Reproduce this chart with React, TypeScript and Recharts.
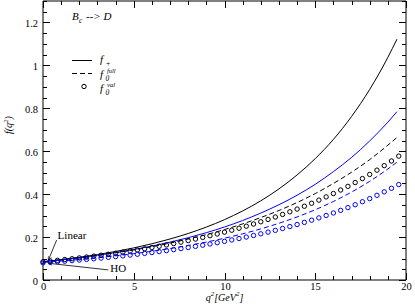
import {
  ComposedChart,
  Line,
  XAxis,
  YAxis,
  Legend,
  ReferenceLine,
} from "recharts";

// q^2 grid for the curves, and the values
const qLine = [0, 1, 2, 3, 4, 5, 6, 7, 8, 9, 10, 11, 12, 13, 14, 15, 16, 17, 18, 19, 19.5];
const fPlusLinear = [0.085, 0.0947, 0.1057, 0.1184, 0.1329, 0.1496, 0.1688, 0.1911, 0.2167, 0.2466, 0.2812, 0.3218, 0.369, 0.4244, 0.4896, 0.5656, 0.655, 0.7619, 0.888, 1.0373, 1.122];
const fPlusHO = [0.085, 0.0939, 0.104, 0.1152, 0.128, 0.1422, 0.158, 0.1766, 0.197, 0.2205, 0.2471, 0.2772, 0.312, 0.3507, 0.395, 0.446, 0.505, 0.571, 0.648, 0.7353, 0.784];
const f0FullLinear = [0.085, 0.0938, 0.1035, 0.1144, 0.1265, 0.14, 0.155, 0.1718, 0.191, 0.2116, 0.2351, 0.2614, 0.291, 0.324, 0.361, 0.4027, 0.45, 0.5022, 0.561, 0.6283, 0.664];
const f0FullHO = [0.082, 0.0885, 0.0957, 0.1038, 0.1127, 0.1228, 0.1341, 0.1467, 0.1609, 0.1769, 0.1948, 0.2152, 0.2382, 0.2643, 0.2939, 0.3275, 0.3659, 0.4098, 0.4599, 0.5173, 0.549];

// open-circle points (f0 val)
const qDots = [0, 0.4, 0.8, 1.2, 1.6, 2, 2.4, 2.8, 3.2, 3.6, 4, 4.4, 4.8, 5.2, 5.6, 6, 6.4, 6.8, 7.2, 7.6, 8, 8.4, 8.8, 9.2, 9.6, 10, 10.4, 10.8, 11.2, 11.6, 12, 12.4, 12.8, 13.2, 13.6, 14, 14.4, 14.8, 15.2, 15.6, 16, 16.4, 16.8, 17.2, 17.6, 18, 18.4, 18.8, 19.2, 19.6];
const f0ValLinear = [0.085, 0.0883, 0.0917, 0.0953, 0.099, 0.1029, 0.1069, 0.1111, 0.1154, 0.1199, 0.1246, 0.1295, 0.1346, 0.1399, 0.1454, 0.1511, 0.1571, 0.1633, 0.1698, 0.1765, 0.1835, 0.1908, 0.1983, 0.2062, 0.2144, 0.223, 0.2319, 0.2412, 0.2508, 0.2609, 0.2713, 0.2822, 0.2935, 0.3054, 0.3177, 0.3305, 0.3438, 0.3577, 0.3722, 0.3872, 0.4029, 0.4193, 0.4363, 0.4541, 0.4726, 0.4918, 0.5119, 0.5328, 0.5546, 0.5773];
const f0ValHO = [0.08, 0.0824, 0.0849, 0.0876, 0.0903, 0.0931, 0.096, 0.099, 0.1022, 0.1055, 0.1089, 0.1124, 0.1161, 0.1199, 0.1239, 0.1281, 0.1324, 0.1369, 0.1415, 0.1464, 0.1514, 0.1567, 0.1622, 0.1679, 0.1738, 0.18, 0.1865, 0.1932, 0.2002, 0.2075, 0.2151, 0.2231, 0.2314, 0.24, 0.2491, 0.2585, 0.2684, 0.2786, 0.2894, 0.3006, 0.3123, 0.3245, 0.3373, 0.3507, 0.3647, 0.3793, 0.3946, 0.4106, 0.4273, 0.4448];

const xTicks = [0, 1, 2, 3, 4, 5, 6, 7, 8, 9, 10, 11, 12, 13, 14, 15, 16, 17, 18, 19, 20];
const yTicks = [0, 0.05, 0.1, 0.15, 0.2, 0.25, 0.3, 0.35, 0.4, 0.45, 0.5, 0.55, 0.6, 0.65, 0.7, 0.75, 0.8, 0.85, 0.9, 0.95, 1, 1.05, 1.1, 1.15, 1.2, 1.25, 1.3];

const lineData = qLine.map((q, i) => ({
  q,
  fpLin: fPlusLinear[i],
  fpHO: fPlusHO[i],
  f0Lin: f0FullLinear[i],
  f0HO: f0FullHO[i],
}));
const dotsLinear = qDots.map((q, i) => ({ q, v: f0ValLinear[i] }));
const dotsHO = qDots.map((q, i) => ({ q, v: f0ValHO[i] }));

const FONT = "'Liberation Serif', 'DejaVu Serif', serif";
const BLUE = "#0000ff";

const isMajorX = (v: number) => v % 5 === 0;
const isMajorY = (v: number) => Math.abs(v * 5 - Math.round(v * 5)) < 1e-6;
const yLabel = (v: number) => (v === 0 ? "0" : v === 1 ? "1" : v.toFixed(1));

function BottomTick(props: any) {
  const x = Math.round(props.x) + 0.5;
  const y = props.y;
  const v = props.payload.value;
  const major = isMajorX(v);
  return (
    <g>
      <line x1={x} x2={x} y1={y} y2={y - (major ? 7 : 4)} stroke="#000" strokeWidth={1} />
      {major && (
        <text x={x} y={y + 10} textAnchor="middle" fontSize={10.5} fontFamily={FONT} fill="#000">
          {v}
        </text>
      )}
    </g>
  );
}

function TopTick(props: any) {
  const x = Math.round(props.x) + 0.5;
  const y = props.y;
  const major = isMajorX(props.payload.value);
  return <line x1={x} x2={x} y1={y} y2={y + (major ? 7 : 4)} stroke="#000" strokeWidth={1} />;
}

function LeftTick(props: any) {
  const x = props.x;
  const y = Math.round(props.y) + 0.5;
  const v = props.payload.value;
  const major = isMajorY(v);
  return (
    <g>
      <line x1={x} x2={x + (major ? 7 : 4)} y1={y} y2={y} stroke="#000" strokeWidth={1} />
      {major && v < 1.25 && (
        <text x={x - 5} y={y + 4} textAnchor="end" fontSize={10.5} fontFamily={FONT} fill="#000">
          {yLabel(v)}
        </text>
      )}
    </g>
  );
}

function RightTick(props: any) {
  const x = props.x;
  const y = Math.round(props.y) + 0.5;
  const major = isMajorY(props.payload.value);
  return <line x1={x} x2={x - (major ? 7 : 4)} y1={y} y2={y} stroke="#000" strokeWidth={1} />;
}

function LegendBox() {
  const t = { fontStyle: "italic", fontFamily: FONT, fill: "#000" } as const;
  return (
    <svg width={140} height={100} style={{ display: "block" }}>
      <text x={72} y={20} fontSize={11} {...t}>B</text>
      <text x={79} y={23} fontSize={7.5} {...t}>c</text>
      <text x={86} y={20} fontSize={11} {...t}>--&gt; D</text>

      <line x1={72} x2={92} y1={60.5} y2={60.5} stroke="#000" />
      <text x={100} y={63} fontSize={11} {...t}>f</text>
      <text x={105.5} y={66} fontSize={7.5} {...t}>+</text>

      <line x1={72} x2={92} y1={73.5} y2={73.5} stroke="#000" strokeDasharray="5 3" />
      <text x={100} y={78} fontSize={11} {...t}>f</text>
      <text x={105.5} y={81} fontSize={7.5} {...t}>0</text>
      <text x={107} y={72.5} fontSize={6.5} {...t}>full</text>

      <circle cx={84} cy={86.5} r={2.2} fill="none" stroke="#000" />
      <text x={100} y={92} fontSize={11} {...t}>f</text>
      <text x={105.5} y={95} fontSize={7.5} {...t}>0</text>
      <text x={107} y={86.5} fontSize={6.5} {...t}>val</text>
    </svg>
  );
}

export default function App() {
  return (
    <div style={{ position: "absolute", left: 0, top: 0, width: 415, height: 305, background: "#fff" }}>
      <style>{"body{margin:0}"}</style>
      <svg width={0} height={0} style={{ position: "absolute" }}>
        <defs>
          <marker id="arrowHead" viewBox="0 0 10 10" refX={9} refY={5} markerWidth={5} markerHeight={5} orient="auto">
            <path d="M0,1 L10,5 L0,9" fill="none" stroke="#000" strokeWidth={1.5} />
          </marker>
        </defs>
      </svg>
      <ComposedChart width={415} height={305} margin={{ top: 0, right: 0, bottom: 0, left: 0 }}>
        <XAxis
          dataKey="q"
          type="number"
          domain={[0, 20]}
          ticks={xTicks}
          interval={0}
          height={25}
          tickLine={false}
          tickSize={0}
          tickMargin={0}
          stroke="#000"
          tick={BottomTick}
          label={{
            content: ({ viewBox }: any) => (
              <text
                x={viewBox.x + viewBox.width / 2}
                y={viewBox.y + 21}
                textAnchor="middle"
                fontSize={10}
                fontStyle="italic"
                fontFamily={FONT}
              >
                q<tspan fontSize={7} dy={-5}>2</tspan>
                <tspan fontSize={10} dy={5}>[GeV</tspan>
                <tspan fontSize={7} dy={-5}>2</tspan>
                <tspan fontSize={10} dy={5}>]</tspan>
              </text>
            ),
          }}
        />
        <XAxis
          xAxisId="top"
          dataKey="q"
          orientation="top"
          type="number"
          domain={[0, 20]}
          ticks={xTicks}
          interval={0}
          height={1}
          tickLine={false}
          tickSize={0}
          tickMargin={0}
          stroke="#000"
          tick={TopTick}
        />
        <YAxis
          type="number"
          domain={[0, 1.3]}
          ticks={yTicks}
          interval={0}
          width={43}
          tickLine={false}
          tickSize={0}
          tickMargin={0}
          stroke="#000"
          tick={LeftTick}
          label={{
            content: ({ viewBox }: any) => {
              const cx = 12;
              const cy = viewBox.y + 124;
              return (
                <text
                  x={cx}
                  y={cy}
                  transform={`rotate(-90, ${cx}, ${cy})`}
                  textAnchor="middle"
                  fontSize={10}
                  fontStyle="italic"
                  fontFamily={FONT}
                >
                  f(q<tspan fontSize={7} dy={-4}>2</tspan>
                  <tspan fontSize={10} dy={4}>)</tspan>
                </text>
              );
            },
          }}
        />
        <YAxis
          yAxisId="right"
          orientation="right"
          type="number"
          domain={[0, 1.3]}
          ticks={yTicks}
          interval={0}
          width={9}
          tickLine={false}
          tickSize={0}
          tickMargin={0}
          stroke="#000"
          tick={RightTick}
        />
        <Legend
          layout="vertical"
          align="center"
          verticalAlign="middle"
          wrapperStyle={{ position: "absolute", left: 0, top: 0, width: 140, height: 100 }}
          content={() => <LegendBox />}
        />

        {/* invisible series so the mirrored frame axes get their ticks */}
        <Line
          data={lineData}
          dataKey="fpLin"
          xAxisId="top"
          yAxisId="right"
          stroke="none"
          dot={false}
          activeDot={false}
          legendType="none"
          isAnimationActive={false}
        />

        <Line data={lineData} dataKey="fpLin" type="monotone" stroke="#000" strokeWidth={1} dot={false} isAnimationActive={false} />
        <Line data={lineData} dataKey="fpHO" type="monotone" stroke={BLUE} strokeWidth={1} dot={false} isAnimationActive={false} />
        <Line data={lineData} dataKey="f0Lin" type="monotone" stroke="#000" strokeWidth={1} strokeDasharray="5 3" dot={false} isAnimationActive={false} />
        <Line data={lineData} dataKey="f0HO" type="monotone" stroke={BLUE} strokeWidth={1} strokeDasharray="5 3" dot={false} isAnimationActive={false} />
        <Line
          data={dotsLinear}
          dataKey="v"
          stroke="none"
          dot={{ r: 2.2, stroke: "#000", strokeWidth: 1, fill: "none" }}
          isAnimationActive={false}
        />
        <Line
          data={dotsHO}
          dataKey="v"
          stroke="none"
          dot={{ r: 2.2, stroke: BLUE, strokeWidth: 1, fill: "none" }}
          isAnimationActive={false}
        />

        <ReferenceLine
          segment={[{ x: 0.75, y: 0.186 }, { x: 0.3, y: 0.093 }]}
          stroke="#000"
          strokeWidth={0.8}
          markerEnd="url(#arrowHead)"
          label={{
            content: ({ viewBox }: any) => (
              <text x={viewBox.x + viewBox.width + 1} y={viewBox.y - 1} fontSize={11} fontFamily={FONT}>
                Linear
              </text>
            ),
          }}
        />
        <ReferenceLine
          segment={[{ x: 3.6, y: 0.047 }, { x: 0.3, y: 0.078 }]}
          stroke="#000"
          strokeWidth={0.8}
          markerEnd="url(#arrowHead)"
          label={{
            content: ({ viewBox }: any) => (
              <text x={viewBox.x + viewBox.width + 2} y={viewBox.y + viewBox.height + 2} fontSize={11} fontFamily={FONT}>
                HO
              </text>
            ),
          }}
        />
      </ComposedChart>
    </div>
  );
}
